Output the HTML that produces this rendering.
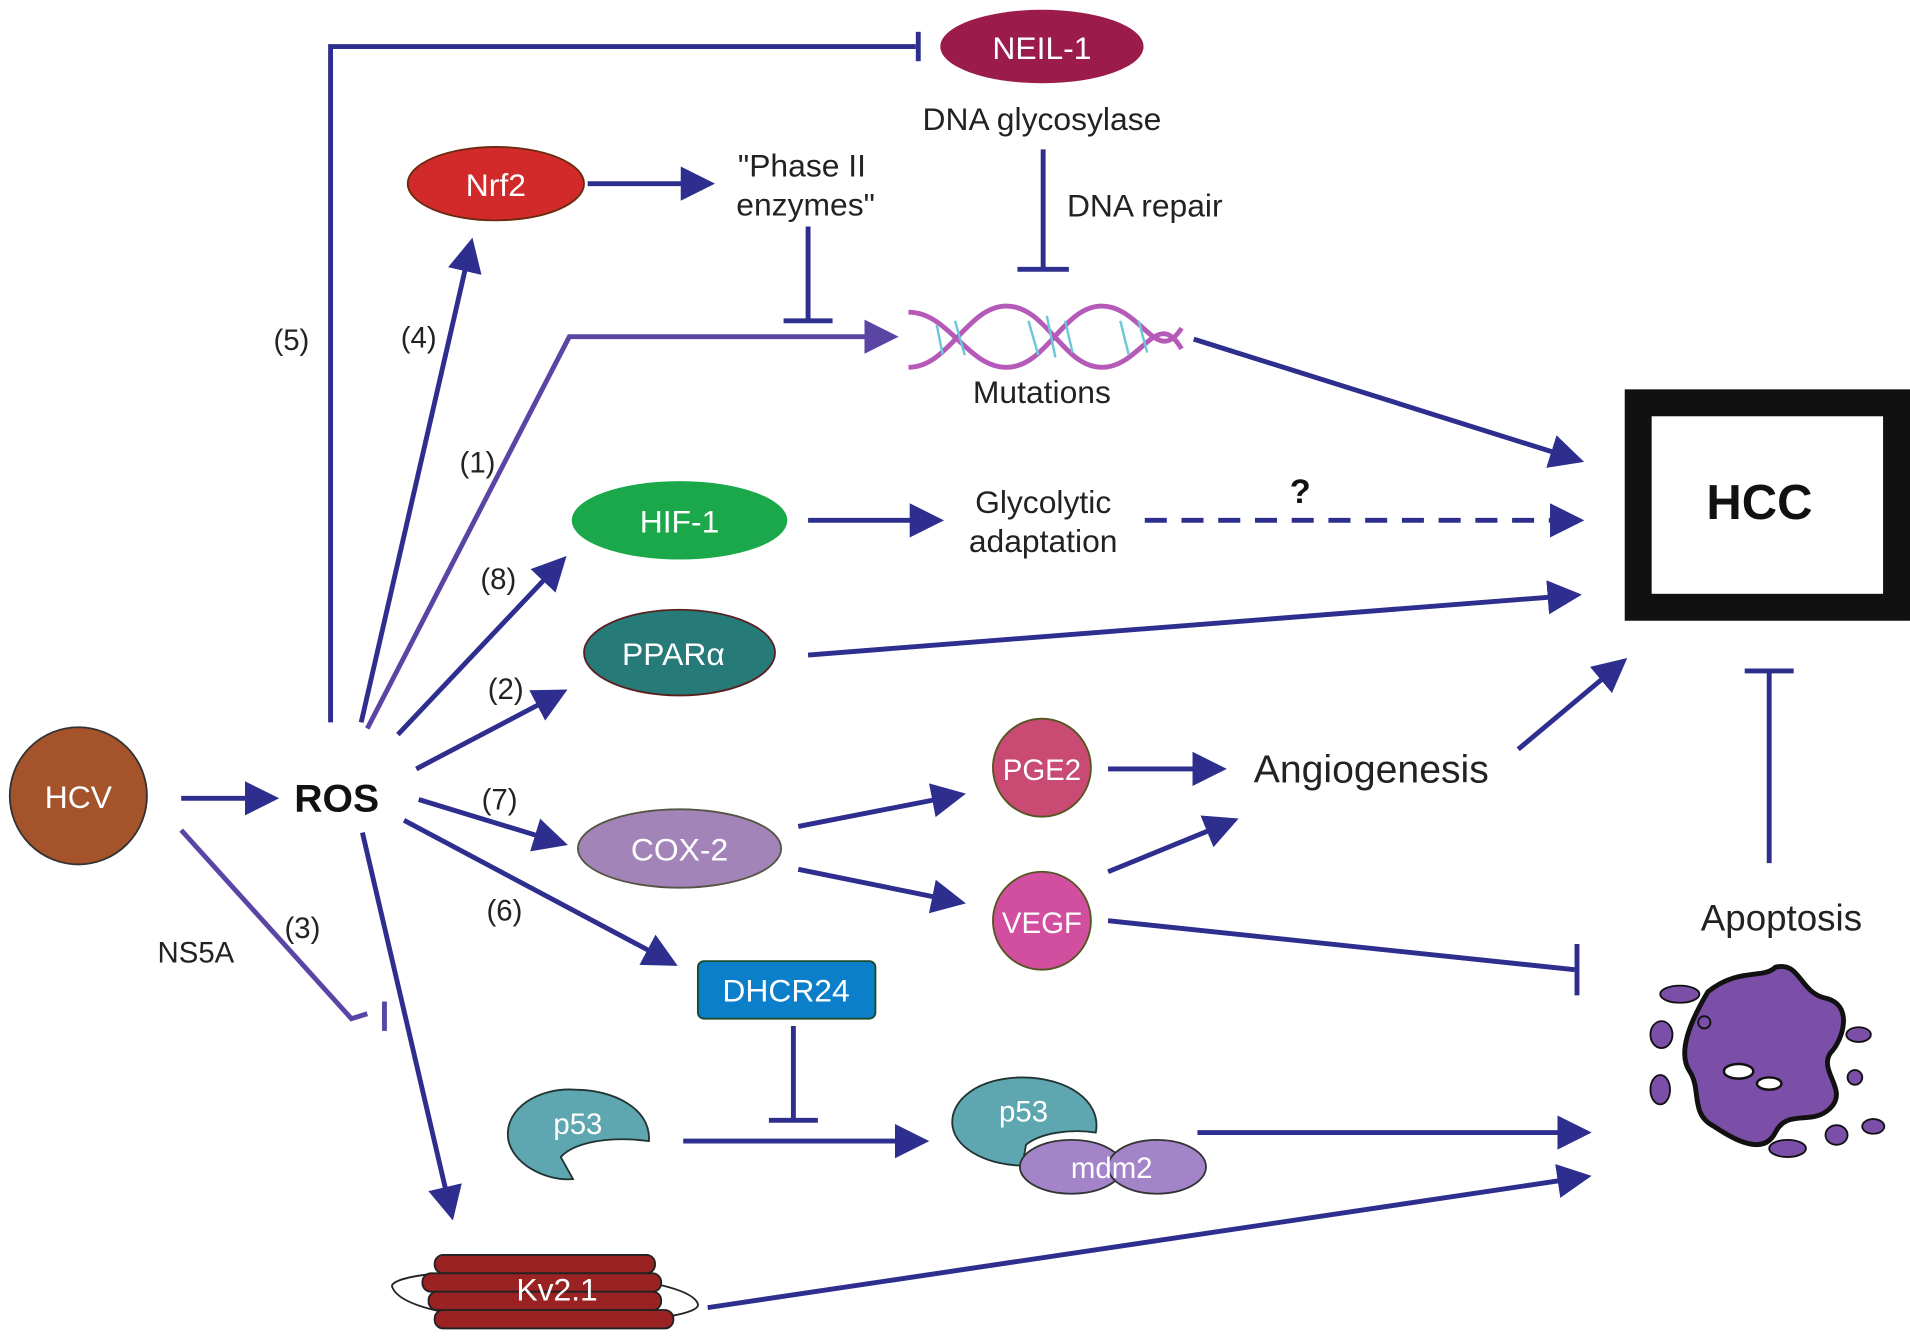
<!DOCTYPE html>
<html><head><meta charset="utf-8"><style>
html,body{margin:0;padding:0;background:#fff;}
svg{display:block;}
text{font-family:"Liberation Sans",sans-serif;}
</style></head><body>
<svg width="1910" height="1337" viewBox="0 0 1560 1092" preserveAspectRatio="none" xmlns="http://www.w3.org/2000/svg">
<defs>
<marker id="a" markerWidth="8" markerHeight="8" refX="6" refY="4" orient="auto" markerUnits="strokeWidth">
<path d="M0,0.5 L7,4 L0,7.5 z" fill="#2e2e8f"/></marker>
<marker id="ap" markerWidth="8" markerHeight="8" refX="6" refY="4" orient="auto" markerUnits="strokeWidth">
<path d="M0,0.5 L7,4 L0,7.5 z" fill="#5a45a5"/></marker>
</defs>
<g stroke="#2e2e8f" stroke-width="4" fill="none">
<!-- (5) -->
<polyline points="270,590 270,38 748,38"/>
<line x1="750" y1="26" x2="750" y2="50"/>
<!-- Nrf2 arrow -->
<line x1="480" y1="150" x2="580" y2="150" marker-end="url(#a)"/>
<line x1="660" y1="185" x2="660" y2="262"/>
<line x1="640" y1="262" x2="680" y2="262"/>
<line x1="852" y1="122" x2="852" y2="220"/>
<line x1="831" y1="220" x2="873" y2="220"/>
<!-- (4) -->
<line x1="295" y1="590" x2="385" y2="198" marker-end="url(#a)"/>
<!-- mutations to HCC -->
<line x1="975" y1="277" x2="1290" y2="376" marker-end="url(#a)"/>
<!-- (8) -->
<line x1="325" y1="600" x2="460" y2="457" marker-end="url(#a)"/>
<line x1="660" y1="425" x2="767" y2="425" marker-end="url(#a)"/>
<line x1="935" y1="425" x2="1290" y2="425" stroke-dasharray="18,12" marker-end="url(#a)"/>
<!-- (2) -->
<line x1="340" y1="628" x2="460" y2="565" marker-end="url(#a)"/>
<line x1="660" y1="535" x2="1288" y2="486" marker-end="url(#a)"/>
<!-- HCV -> ROS -->
<line x1="148" y1="652" x2="224" y2="652" marker-end="url(#a)"/>
<!-- (7) -->
<line x1="342" y1="653" x2="460" y2="689" marker-end="url(#a)"/>
<!-- (6) -->
<line x1="330" y1="670" x2="550" y2="787" marker-end="url(#a)"/>
<line x1="652" y1="675" x2="785" y2="649" marker-end="url(#a)"/>
<line x1="652" y1="710" x2="785" y2="737" marker-end="url(#a)"/>
<line x1="905" y1="628" x2="998" y2="628" marker-end="url(#a)"/>
<line x1="905" y1="712" x2="1008" y2="670" marker-end="url(#a)"/>
<line x1="1240" y1="612" x2="1326" y2="540" marker-end="url(#a)"/>
<line x1="905" y1="752" x2="1286" y2="792"/>
<line x1="1288" y1="771" x2="1288" y2="813"/>
<line x1="1445" y1="705" x2="1445" y2="548"/>
<line x1="1425" y1="548" x2="1465" y2="548"/>
<!-- ROS -> Kv -->
<line x1="296" y1="680" x2="369" y2="993" marker-end="url(#a)"/>
<line x1="648" y1="838" x2="648" y2="915"/>
<line x1="628" y1="915" x2="668" y2="915"/>
<line x1="558" y1="932" x2="755" y2="932" marker-end="url(#a)"/>
<line x1="978" y1="925" x2="1296" y2="925" marker-end="url(#a)"/>
<line x1="578" y1="1068" x2="1296" y2="961" marker-end="url(#a)"/>
</g>
<g stroke="#5a45a5" stroke-width="4" fill="none">
<polyline points="300,595 465,275 730,275" marker-end="url(#ap)"/>
<polyline points="148,678 287,832 300,828"/>
<line x1="314" y1="818" x2="314" y2="842" stroke="#5a45a5"/>
</g>
<!-- NEIL-1 -->
<ellipse cx="851" cy="38" rx="83" ry="30" fill="#9b1c4a"/>
<text x="851" y="48" font-size="26" fill="#fff" text-anchor="middle">NEIL-1</text>
<text x="851" y="106" font-size="26" fill="#222" text-anchor="middle">DNA glycosylase</text>
<text x="935" y="177" font-size="26" fill="#222" text-anchor="middle">DNA repair</text>
<ellipse cx="405" cy="150" rx="72" ry="30" fill="#d22a2a" stroke="#6a2a10" stroke-width="1.5"/>
<text x="405" y="160" font-size="26" fill="#fff" text-anchor="middle">Nrf2</text>
<text x="655" y="144" font-size="26" fill="#222" text-anchor="middle">"Phase II</text>
<text x="658" y="176" font-size="26" fill="#222" text-anchor="middle">enzymes"</text>
<!-- DNA helix -->
<g fill="none" stroke-width="4">
<path d="M742,255 C775,255 790,300 822,300 C855,300 868,250 900,250 C932,250 945,300 965,268" stroke="#b55ab8"/>
<path d="M742,300 C775,300 790,250 822,250 C855,250 868,300 900,300 C932,300 945,250 965,285" stroke="#b55ab8"/>
<g stroke="#6cc8d8" stroke-width="2">
<line x1="765" y1="265" x2="770" y2="290"/><line x1="780" y1="262" x2="788" y2="290"/>
<line x1="840" y1="262" x2="848" y2="290"/><line x1="855" y1="258" x2="862" y2="292"/><line x1="870" y1="262" x2="876" y2="288"/>
<line x1="915" y1="262" x2="922" y2="290"/><line x1="930" y1="262" x2="937" y2="288"/>
</g></g>
<text x="851" y="329" font-size="26" fill="#222" text-anchor="middle">Mutations</text>
<!-- HCC -->
<rect x="1338" y="329" width="211" height="167" fill="#fff" stroke="#111" stroke-width="22"/>
<text x="1437" y="424" font-size="40" font-weight="bold" fill="#111" text-anchor="middle">HCC</text>
<ellipse cx="555" cy="425" rx="88" ry="32" fill="#1aa84a"/>
<text x="555" y="435" font-size="26" fill="#fff" text-anchor="middle">HIF-1</text>
<text x="852" y="419" font-size="26" fill="#222" text-anchor="middle">Glycolytic</text>
<text x="852" y="451" font-size="26" fill="#222" text-anchor="middle">adaptation</text>
<text x="1062" y="411" font-size="28" font-weight="bold" fill="#111" text-anchor="middle">?</text>
<ellipse cx="555" cy="533" rx="78" ry="35" fill="#267a78" stroke="#5a2020" stroke-width="1.5"/>
<text x="550" y="543" font-size="26" fill="#fff" text-anchor="middle">PPARα</text>
<circle cx="64" cy="650" r="56" fill="#a5532a" stroke="#333" stroke-width="1.5"/>
<text x="64" y="660" font-size="26" fill="#fff" text-anchor="middle">HCV</text>
<text x="275" y="663" font-size="32" font-weight="bold" fill="#111" text-anchor="middle">ROS</text>
<g font-size="24" fill="#222" text-anchor="middle">
<text x="238" y="286">(5)</text><text x="342" y="284">(4)</text><text x="390" y="386">(1)</text>
<text x="407" y="481">(8)</text><text x="413" y="571">(2)</text><text x="408" y="661">(7)</text>
<text x="412" y="752">(6)</text><text x="247" y="766">(3)</text><text x="160" y="786">NS5A</text>
</g>
<ellipse cx="555" cy="693" rx="83" ry="32" fill="#a384b8" stroke="#554" stroke-width="1.5"/>
<text x="555" y="703" font-size="26" fill="#fff" text-anchor="middle">COX-2</text>
<rect x="570" y="785" width="145" height="47" rx="5" fill="#0b7fc9" stroke="#1a4a2a" stroke-width="1.5"/>
<text x="642" y="818" font-size="26" fill="#fff" text-anchor="middle">DHCR24</text>
<circle cx="851" cy="627" r="40" fill="#c94a73" stroke="#552" stroke-width="1.5"/>
<text x="851" y="637" font-size="24" fill="#fff" text-anchor="middle">PGE2</text>
<circle cx="851" cy="752" r="40" fill="#d14f9e" stroke="#552" stroke-width="1.5"/>
<text x="851" y="762" font-size="24" fill="#fff" text-anchor="middle">VEGF</text>
<text x="1120" y="639" font-size="32" fill="#222" text-anchor="middle">Angiogenesis</text>
<text x="1455" y="760" font-size="30" fill="#222" text-anchor="middle">Apoptosis</text>
<!-- apoptosis blob -->
<path d="M1395,810 C1420,790 1440,800 1450,790 C1470,785 1470,810 1490,815 C1515,820 1505,850 1495,860 C1485,875 1510,890 1495,905 C1480,920 1460,905 1450,925 C1440,945 1415,930 1400,920 C1380,910 1390,890 1380,875 C1370,860 1380,835 1395,810 Z" fill="#7b4ea8" stroke="#111" stroke-width="4"/>
<ellipse cx="1420" cy="875" rx="12" ry="6" fill="#fff" stroke="#111" stroke-width="2"/>
<ellipse cx="1445" cy="885" rx="10" ry="5" fill="#fff" stroke="#111" stroke-width="2"/>
<g fill="#7b4ea8" stroke="#111" stroke-width="1.5">
<ellipse cx="1372" cy="812" rx="16" ry="7"/><ellipse cx="1357" cy="845" rx="9" ry="11"/>
<ellipse cx="1392" cy="835" rx="5" ry="5"/><ellipse cx="1356" cy="890" rx="8" ry="12"/>
<ellipse cx="1518" cy="845" rx="10" ry="6"/><ellipse cx="1530" cy="920" rx="9" ry="6"/>
<ellipse cx="1500" cy="927" rx="9" ry="8"/><ellipse cx="1460" cy="938" rx="15" ry="7"/>
<ellipse cx="1515" cy="880" rx="6" ry="6"/>
</g>
<!-- p53 -->
<path d="M470,890 C440,888 412,905 415,930 C418,950 445,965 468,963 L458,945 C470,932 500,928 530,932 C532,905 500,890 470,890 Z" fill="#5ea7b0" stroke="#233" stroke-width="1.5"/>
<text x="472" y="926" font-size="24" fill="#fff" text-anchor="middle">p53</text>
<path d="M835,880 C800,880 775,898 778,920 C781,940 810,952 835,952 L838,935 C850,925 875,922 895,925 C900,898 870,880 835,880 Z" fill="#5ea7b0" stroke="#233" stroke-width="1.5"/>
<text x="836" y="916" font-size="24" fill="#fff" text-anchor="middle">p53</text>
<ellipse cx="875" cy="953" rx="42" ry="22" fill="#a384c8" stroke="#333" stroke-width="1.5"/>
<ellipse cx="945" cy="953" rx="40" ry="22" fill="#a384c8" stroke="#333" stroke-width="1.5"/>
<text x="908" y="962" font-size="24" fill="#fff" text-anchor="middle">mdm2</text>
<!-- Kv2.1 -->
<g stroke="#222" stroke-width="1.5">
<path d="M320,1050 C330,1030 560,1035 570,1065 C575,1085 330,1090 320,1050" fill="none"/>
<rect x="355" y="1025" width="180" height="15" rx="7" fill="#9b2222"/>
<rect x="345" y="1040" width="195" height="15" rx="7" fill="#9b2222"/>
<rect x="350" y="1055" width="190" height="15" rx="7" fill="#9b2222"/>
<rect x="355" y="1070" width="195" height="15" rx="7" fill="#9b2222"/>
</g>
<text x="455" y="1062" font-size="26" fill="#fff" text-anchor="middle">Kv2.1</text>
</svg>
</body></html>
